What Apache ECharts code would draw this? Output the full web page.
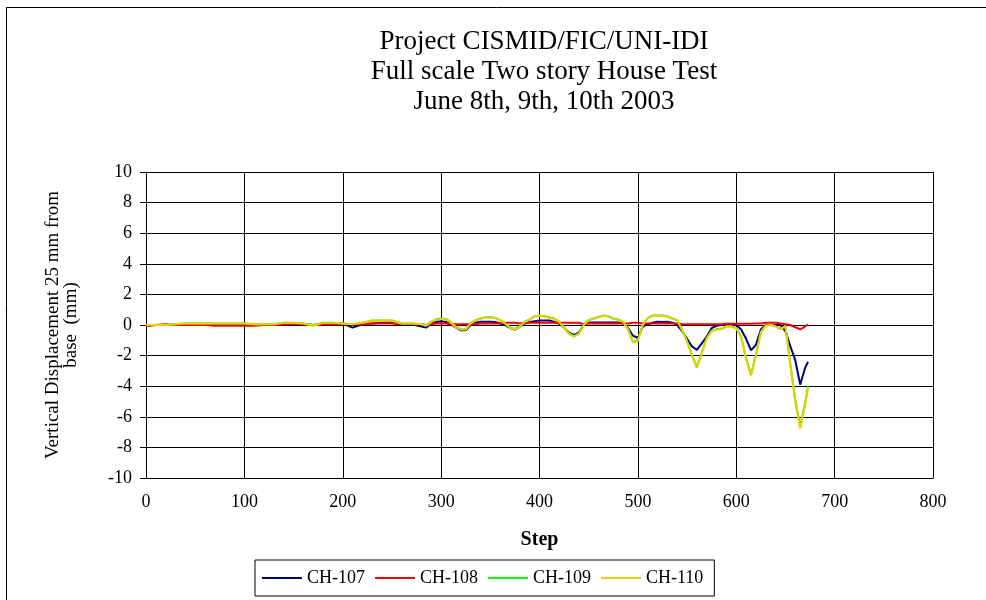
<!DOCTYPE html>
<html>
<head>
<meta charset="utf-8">
<title>Vertical Displacement</title>
<script src="https://cdn.jsdelivr.net/npm/echarts@6/dist/echarts.min.js"></script>
<style>
	html, body { margin: 0; padding: 0; background: #fff; }
	#chart { width: 986px; height: 600px; }
</style>
</head>
<body>
<div id="chart"></div>
<script>
	// 采样步数
	const steps = [
		0, 10, 20, 30, 40, 50, 60, 70, 80, 90,
		100, 110, 120, 130, 140, 150, 160, 170, 180, 190,
		200, 210, 220, 230, 240, 250, 260, 270, 280,
		285, 290, 295, 300, 305, 310, 315, 320, 325, 330,
		335, 340, 345, 350, 355, 360, 365, 370, 375, 380,
		385, 390, 395, 400, 405, 410, 415, 420, 425, 430,
		435, 440, 445, 450, 455, 460, 465, 470, 475, 480,
		485, 490, 495, 500, 505, 510, 515, 520, 525, 530,
		535, 540, 545, 550, 555, 560, 565, 570, 575, 580,
		585, 590, 595, 600, 605, 610, 615, 620, 625, 630,
		635, 640, 645, 650, 655, 660, 665, 670,
		673
	]

	const ch107 = [
		-0.05, 0, 0, 0, 0, 0, 0, 0, 0, 0,
		0, 0, 0, 0, 0.05, 0.05, 0.05, 0, 0.05, 0.05,
		0.1, -0.17, 0.05, 0.1, 0.15, 0.15, 0.05, 0.05, -0.1,
		-0.17, 0.1, 0.2, 0.25, 0.2, 0.05, -0.15, -0.35, -0.35, 0,
		0.15, 0.22, 0.22, 0.22, 0.2, 0.1, 0, -0.2, -0.3, -0.1,
		0.1, 0.2, 0.25, 0.3, 0.3, 0.3, 0.2, 0.1, -0.2, -0.5,
		-0.65, -0.5, 0, 0.17, 0.17, 0.17, 0.17, 0.17, 0.17, 0.17,
		0.1, -0.2, -0.7, -0.85, -0.1, 0.05, 0.15, 0.22, 0.2, 0.22,
		0.15, 0, -0.4, -0.9, -1.4, -1.63, -1.2, -0.75, -0.2, -0.05,
		0, 0, 0, 0, -0.3, -0.9, -1.65, -1.3, -0.3, 0,
		0, 0, 0, -0.4, -1.4, -2.3, -3.9, -2.8,
		-2.4
	]

	const ch108 = [
		-0.05, 0, 0.05, 0, 0, 0, 0, -0.05, -0.05, -0.05,
		-0.05, -0.05, 0, 0, 0.05, 0.05, 0.05, 0, 0.05, 0.05,
		0.05, 0.05, 0.05, 0.1, 0.1, 0.1, 0.05, 0.05, 0.05,
		0, 0.05, 0.1, 0.1, 0.1, 0.05, 0.05, 0.05, 0.05, 0.05,
		0.05, 0.1, 0.1, 0.1, 0.1, 0.1, 0.15, 0.15, 0.15, 0.1,
		0.15, 0.15, 0.15, 0.15, 0.15, 0.15, 0.15, 0.15, 0.15, 0.15,
		0.15, 0.15, 0.05, 0.1, 0.1, 0.1, 0.1, 0.1, 0.1, 0.1,
		0.1, 0.1, 0.15, 0.15, 0.1, 0.1, 0.1, 0.1, 0.1, 0.1,
		0.1, 0.1, 0.05, 0.05, 0.05, 0.05, 0.05, 0.05, 0.05, 0.05,
		0.05, 0.08, 0.08, 0.08, 0.08, 0.08, 0.08, 0.1, 0.1, 0.15,
		0.15, 0.15, 0.1, 0.05, 0, -0.15, -0.28, -0.1,
		0.05
	]

	const ch109 = [
		0, 0, 0, 0.05, 0.1, 0.1, 0.1, 0.1, 0.1, 0.1,
		0.1, 0.05, 0.05, 0.05, 0.15, 0.15, 0.1, 0, 0.15, 0.15,
		0.1, 0.05, 0.15, 0.3, 0.3, 0.3, 0.1, 0.1, 0.05,
		-0.02, 0.22, 0.37, 0.42, 0.4, 0.17, -0.12, -0.27, -0.27, 0.12,
		0.32, 0.42, 0.5, 0.5, 0.47, 0.32, 0.12, -0.17, -0.25, -0.07,
		0.22, 0.37, 0.57, 0.62, 0.57, 0.5, 0.42, 0.22, -0.17, -0.55,
		-0.72, -0.55, 0.03, 0.32, 0.42, 0.52, 0.62, 0.57, 0.42, 0.35,
		0.22, -0.25, -1.1, -1.0, 0.03, 0.47, 0.62, 0.62, 0.62, 0.57,
		0.42, 0.32, -0.3, -1.05, -1.95, -2.75, -1.8, -0.85, -0.37, -0.27,
		-0.25, -0.08, -0.08, -0.2, -0.75, -2.15, -3.25, -1.95, -0.45, -0.03,
		0.02, -0.08, -0.25, -0.05, -2.55, -4.9, -6.65, -5.1,
		-4.0
	]

	const ch110 = [
		0, 0, 0, 0.05, 0.1, 0.1, 0.1, 0.1, 0.1, 0.1,
		0.1, 0.05, 0.05, 0.05, 0.15, 0.15, 0.1, -0.05, 0.15, 0.15,
		0.1, 0.05, 0.15, 0.28, 0.28, 0.28, 0.1, 0.1, 0.05,
		-0.05, 0.2, 0.35, 0.4, 0.38, 0.15, -0.15, -0.3, -0.3, 0.1,
		0.3, 0.4, 0.48, 0.48, 0.45, 0.3, 0.1, -0.2, -0.28, -0.1,
		0.2, 0.35, 0.55, 0.6, 0.55, 0.48, 0.4, 0.2, -0.2, -0.6,
		-0.76, -0.6, 0, 0.3, 0.4, 0.5, 0.6, 0.55, 0.4, 0.33,
		0.2, -0.3, -1.15, -1.05, 0, 0.45, 0.6, 0.6, 0.6, 0.55,
		0.4, 0.3, -0.35, -1.1, -2.0, -2.8, -1.85, -0.9, -0.4, -0.3,
		-0.28, -0.1, -0.1, -0.22, -0.8, -2.2, -3.3, -2.0, -0.5, -0.05,
		0, -0.1, -0.28, -0.07, -2.6, -5.0, -6.75, -5.2,
		-4.1
	]

	const seriesNames = ['CH-107', 'CH-108', 'CH-109', 'CH-110']
	const seriesColors = ['#000080', '#ff0000', '#00ff00', '#f2cc00']
	const seriesValues = [ch107, ch108, ch109, ch110]

	const titleLines = ['Project CISMID/FIC/UNI-IDI', 'Full scale Two story House Test', 'June 8th, 9th, 10th 2003']
	const fontFamily = 'Liberation Serif'

	const chart = echarts.init(document.getElementById('chart'), null, { renderer: 'canvas' })

	// 组装折线
	const series = seriesNames.map((name, i) => ({
		name: name,
		type: 'line',
		symbol: 'none',
		data: steps.map((s, k) => [s, seriesValues[i][k]]),
		lineStyle: { color: seriesColors[i], width: 2 },
		itemStyle: { color: seriesColors[i] },
		emphasis: { disabled: true }
	}))

	const option = {
		animation: false,
		backgroundColor: '#ffffff',
		textStyle: { fontFamily: fontFamily, color: '#000' },
		title: {
			text: titleLines.join('\n'),
			left: 539,
			top: 22,
			textAlign: 'center',
			textStyle: {
				fontFamily: fontFamily,
				fontSize: 27,
				fontWeight: 'normal',
				lineHeight: 30,
				color: '#000'
			}
		},
		legend: {
			left: 255,
			top: 560,
			padding: [8, 11, 8, 7],
			borderColor: '#000',
			borderWidth: 1,
			icon: 'rect',
			itemWidth: 40,
			itemHeight: 2,
			itemGap: 10,
			textStyle: { fontFamily: fontFamily, fontSize: 18, color: '#000', lineHeight: 20 },
			data: seriesNames
		},
		grid: {
			left: 146,
			right: 53,
			top: 172,
			bottom: 122,
			containLabel: false
		},
		xAxis: {
			type: 'value',
			min: 0,
			max: 800,
			interval: 100,
			name: 'Step',
			nameLocation: 'middle',
			nameGap: 52,
			nameTextStyle: { fontFamily: fontFamily, fontSize: 20, fontWeight: 'bold', color: '#000' },
			axisLine: { show: true, onZero: false, lineStyle: { color: '#000' } },
			axisTick: { show: false },
			axisLabel: { fontFamily: fontFamily, fontSize: 18, color: '#000', margin: 15 },
			splitLine: { show: true, lineStyle: { color: '#000', width: 1 } }
		},
		yAxis: {
			type: 'value',
			min: -10,
			max: 10,
			interval: 2,
			name: 'Vertical Displacement 25 mm from\nbase  (mm)',
			nameLocation: 'middle',
			nameGap: 66,
			nameTextStyle: { fontFamily: fontFamily, fontSize: 19, lineHeight: 18, color: '#000', align: 'center' },
			axisLine: { show: true, lineStyle: { color: '#000' } },
			axisTick: { show: true, inside: false, length: 6, lineStyle: { color: '#000' } },
			axisLabel: { fontFamily: fontFamily, fontSize: 18, color: '#000', margin: 14 },
			splitLine: { show: true, lineStyle: { color: '#000', width: 1 } }
		},
		graphic: [
			{
				type: 'rect',
				silent: true,
				shape: { x: 6.5, y: 7.5, width: 1000, height: 700 },
				style: { fill: 'none', stroke: '#000', lineWidth: 1 }
			}
		],
		series: series
	}

	chart.setOption(option)
</script>
</body>
</html>
